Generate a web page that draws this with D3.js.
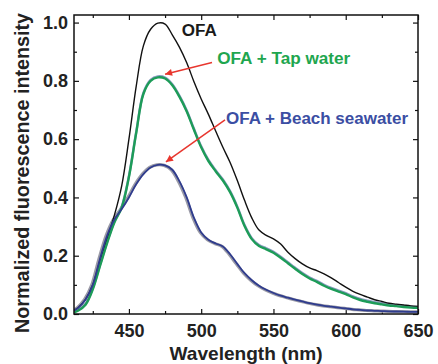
<!DOCTYPE html>
<html>
<head>
<meta charset="utf-8">
<script src="https://cdn.jsdelivr.net/npm/d3@7"></script>
<style>
  html, body { margin: 0; padding: 0; background: #fff; }
  svg text { font-family: "Liberation Sans", Arial, sans-serif; font-weight: bold; }
</style>
</head>
<body>
<svg id="chart" width="438" height="364"></svg>
<script>
// wavelength grid (nm) and normalized intensities
const wavelengths = [412,415,420,425,430,435,440,445,450,455,460,465,470,475,480,485,490,495,500,505,510,515,520,525,530,535,540,545,550,555,560,565,570,575,580,585,590,595,600,605,610,615,620,625,630,635,640,645,650];
const ofa = [0.012,0.022,0.05,0.10,0.185,0.26,0.34,0.44,0.60,0.78,0.92,0.977,0.998,0.995,0.958,0.915,0.862,0.797,0.738,0.685,0.628,0.572,0.52,0.458,0.39,0.33,0.288,0.27,0.258,0.24,0.212,0.19,0.172,0.158,0.149,0.138,0.124,0.108,0.092,0.078,0.067,0.058,0.049,0.043,0.037,0.034,0.031,0.028,0.026];
const tapWater = [0.006,0.012,0.032,0.085,0.165,0.245,0.315,0.365,0.47,0.62,0.755,0.80,0.812,0.808,0.785,0.745,0.695,0.632,0.572,0.525,0.49,0.458,0.418,0.365,0.302,0.257,0.233,0.222,0.21,0.193,0.174,0.155,0.137,0.122,0.11,0.097,0.086,0.077,0.068,0.057,0.048,0.042,0.037,0.033,0.029,0.027,0.024,0.022,0.021];
const beachSeawater = [0.012,0.022,0.05,0.10,0.19,0.27,0.325,0.36,0.40,0.445,0.48,0.503,0.512,0.51,0.495,0.455,0.40,0.33,0.28,0.255,0.242,0.232,0.205,0.172,0.14,0.116,0.097,0.083,0.072,0.063,0.056,0.049,0.043,0.037,0.032,0.028,0.025,0.022,0.019,0.016,0.014,0.012,0.011,0.010,0.009,0.0085,0.008,0.0075,0.007];

const xMajorTicks = [450,500,550,600,650];
const xMinorTicks = [425,475,525,575,625];
const yMajorTicks = [0,0.2,0.4,0.6,0.8,1.0];
const yMinorTicks = [0.1,0.3,0.5,0.7,0.9];

const svg = d3.select("#chart");
const margin = {top: 15, right: 20, bottom: 50, left: 74};
const width = 438 - margin.left - margin.right;
const height = 364 - margin.top - margin.bottom;

const g = svg.append("g")
    .attr("transform", "translate(" + margin.left + "," + margin.top + ")");

const x = d3.scaleLinear().domain([412, 650]).range([0, width]);
const y = d3.scaleLinear().domain([0, 1.026]).range([height, 0]);

// axes, ticks pointing inward on all four sides
function styleAxis(sel) {
    sel.select(".domain").remove();
    sel.attr("font-family", null).attr("font-size", null);
    sel.selectAll(".tick line").attr("stroke", "#111").attr("stroke-width", 1.2);
    sel.selectAll(".tick text").attr("font-size", 18).attr("fill", "#222");
}

g.append("g").attr("transform", "translate(0," + height + ")")
    .call(d3.axisBottom(x).tickValues(xMajorTicks).tickSize(-5).tickPadding(10).tickFormat(d3.format("d")))
    .call(styleAxis);
g.append("g").attr("transform", "translate(0," + height + ")")
    .call(d3.axisBottom(x).tickValues(xMinorTicks).tickSize(-3).tickFormat(""))
    .call(styleAxis);
g.append("g")
    .call(d3.axisTop(x).tickValues(xMajorTicks).tickSize(-5).tickFormat(""))
    .call(styleAxis);
g.append("g")
    .call(d3.axisTop(x).tickValues(xMinorTicks).tickSize(-3).tickFormat(""))
    .call(styleAxis);

g.append("g")
    .call(d3.axisLeft(y).tickValues(yMajorTicks).tickSize(-5).tickPadding(6).tickFormat(d3.format(".1f")))
    .call(styleAxis);
g.append("g")
    .call(d3.axisLeft(y).tickValues(yMinorTicks).tickSize(-3).tickFormat(""))
    .call(styleAxis);
g.append("g").attr("transform", "translate(" + width + ",0)")
    .call(d3.axisRight(y).tickValues(yMajorTicks).tickSize(-5).tickFormat(""))
    .call(styleAxis);
g.append("g").attr("transform", "translate(" + width + ",0)")
    .call(d3.axisRight(y).tickValues(yMinorTicks).tickSize(-3).tickFormat(""))
    .call(styleAxis);

// clip so curves stay in the frame
svg.append("defs").append("clipPath").attr("id", "plot-clip")
    .append("rect").attr("width", width).attr("height", height);

const line = d3.line()
    .x((d, i) => x(wavelengths[i]))
    .y(d => y(d))
    .curve(d3.curveCatmullRom.alpha(0.5));

const curves = g.append("g").attr("clip-path", "url(#plot-clip)");

// shading under the seawater and tap water traces (overlapping replicate scans)
curves.append("path").datum(beachSeawater)
    .attr("d", line).attr("fill", "none")
    .attr("stroke", "#9a9aa6").attr("stroke-width", 3.2)
    .attr("transform", "translate(-1,0)");
curves.append("path").datum(tapWater)
    .attr("d", line).attr("fill", "none")
    .attr("stroke", "#8a9ac0").attr("stroke-width", 2.4)
    .attr("transform", "translate(0,-1)");

curves.append("path").datum(ofa)
    .attr("d", line).attr("fill", "none")
    .attr("stroke", "#111").attr("stroke-width", 1.4);
curves.append("path").datum(tapWater)
    .attr("d", line).attr("fill", "none")
    .attr("stroke", "#1d9c58").attr("stroke-width", 2.4);
curves.append("path").datum(beachSeawater)
    .attr("d", line).attr("fill", "none")
    .attr("stroke", "#2f3c8e").attr("stroke-width", 1.8);

// frame
g.append("rect")
    .attr("width", width).attr("height", height)
    .attr("fill", "none").attr("stroke", "#111").attr("stroke-width", 1.5);

// axis titles
svg.append("text")
    .attr("x", margin.left + width / 2).attr("y", 360)
    .attr("text-anchor", "middle")
    .attr("font-size", 18.5).attr("fill", "#222")
    .attr("textLength", 153).attr("lengthAdjust", "spacingAndGlyphs")
    .text("Wavelength (nm)");

svg.append("text")
    .attr("transform", "translate(29,173) rotate(-90)")
    .attr("text-anchor", "middle")
    .attr("font-size", 19.5).attr("fill", "#222")
    .attr("textLength", 320).attr("lengthAdjust", "spacingAndGlyphs")
    .text("Normalized fluorescence intensity");

// annotations
const red = "#e8362e";
svg.select("defs").append("marker")
    .attr("id", "arrowhead")
    .attr("markerUnits", "userSpaceOnUse")
    .attr("viewBox", "0 0 10 10")
    .attr("refX", 10).attr("refY", 5)
    .attr("markerWidth", 9).attr("markerHeight", 7)
    .attr("orient", "auto")
    .append("path").attr("d", "M0,0L10,5L0,10Z").attr("fill", red);

const labels = [
    {text: "OFA", wl: 486.5, v: 0.955, color: "#1a1a1a", len: 35},
    {text: "OFA + Tap water", wl: 511.1, v: 0.857, color: "#1fa64f", len: 133},
    {text: "OFA + Beach seawater", wl: 517.2, v: 0.652, color: "#3b4ea3", len: 182}
];
g.selectAll("text.label").data(labels).enter().append("text")
    .attr("class", "label")
    .attr("x", d => x(d.wl)).attr("y", d => y(d.v))
    .attr("font-size", 16).attr("fill", d => d.color)
    .attr("textLength", d => d.len).attr("lengthAdjust", "spacingAndGlyphs")
    .text(d => d.text);

const arrows = [
    {from: [507.5, 0.863], to: [475, 0.823]},
    {from: [516.5, 0.666], to: [475.6, 0.522]}
];
g.selectAll("line.arrow").data(arrows).enter().append("line")
    .attr("class", "arrow")
    .attr("x1", d => x(d.from[0])).attr("y1", d => y(d.from[1]))
    .attr("x2", d => x(d.to[0])).attr("y2", d => y(d.to[1]))
    .attr("stroke", red).attr("stroke-width", 1.5)
    .attr("marker-end", "url(#arrowhead)");
</script>
</body>
</html>
